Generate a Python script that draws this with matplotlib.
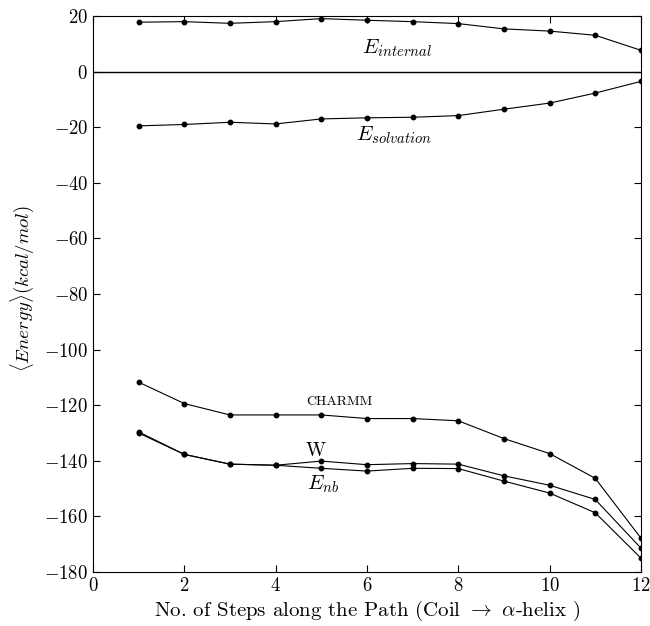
import matplotlib
matplotlib.use("Agg")
import matplotlib.pyplot as plt

plt.rcParams["font.family"] = "serif"
plt.rcParams["font.serif"] = ["cmr10", "DejaVu Serif"]
plt.rcParams["mathtext.fontset"] = "cm"
plt.rcParams["axes.formatter.use_mathtext"] = True
plt.rcParams["font.size"] = 13

steps = list(range(1, 13))
e_internal = [17.8, 18.0, 17.4, 18.0, 19.1, 18.5, 18.0, 17.3, 15.4, 14.6, 13.1, 7.7]
e_solvation = [-19.5, -19.0, -18.2, -18.8, -17.0, -16.6, -16.4, -15.8, -13.5, -11.3, -7.7, -3.5]
charmm = [-111.7, -119.4, -123.5, -123.5, -123.5, -124.8, -124.8, -125.6, -132.0, -137.4, -146.3, -167.8]
w_free = [-129.6, -137.7, -141.2, -141.6, -140.1, -141.4, -141.0, -141.2, -145.4, -148.8, -153.9, -171.4]
e_nb = [-130.0, -137.7, -141.2, -141.6, -142.7, -143.7, -142.7, -142.8, -147.3, -151.6, -158.7, -175.0]

fig = plt.figure(figsize=(6.5, 6.26), dpi=100)
ax = fig.add_axes([0.143, 0.0863, 0.843, 0.888])

for ys in (e_internal, e_solvation, charmm, w_free, e_nb):
    ax.plot(steps, ys, "k-", lw=0.8, marker="o", ms=3.2)

ax.axhline(0, color="k", lw=1.0)

ax.text(6.65, 8.5, r"$E_{internal}$", ha="center", va="center", fontsize=15)
ax.text(6.6, -23, r"$E_{solvation}$", ha="center", va="center", fontsize=15)
ax.text(5.4, -119, "CHARMM", ha="center", va="center", fontsize=10)
ax.text(4.88, -136.5, "W", ha="center", va="center", fontsize=14)
ax.text(4.69, -148.3, r"$E_{nb}$", ha="left", va="center", fontsize=15)

ax.set_xlim(0, 12)
ax.set_ylim(-180, 20)
ax.set_xticks(range(0, 13, 2))
ax.set_yticks(range(-180, 21, 20))
ax.tick_params(direction="in", top=True, right=True, length=5, width=0.8, labelsize=13.5)
ax.set_xlabel(r"No. of Steps along the Path (Coil $\rightarrow$ $\alpha$-helix )", fontsize=15, labelpad=3)
ax.set_ylabel(r"$\langle Energy\rangle(kcal/mol)$", fontsize=13.5)
ax.yaxis.set_label_coords(-0.104, 0.51)

fig.savefig("out.png", dpi=100)
